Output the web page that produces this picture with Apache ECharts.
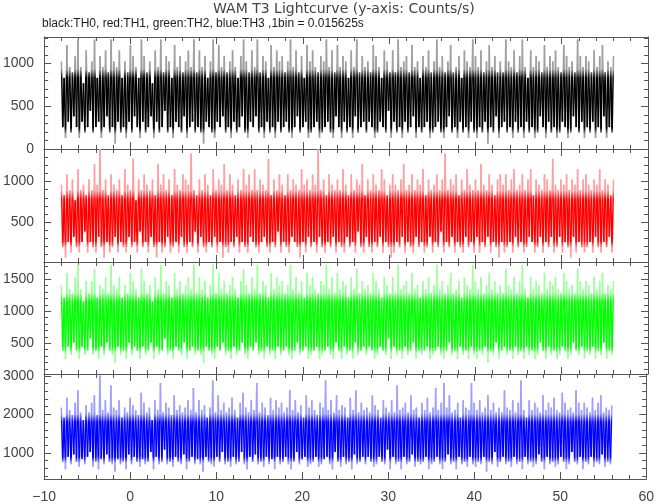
<!DOCTYPE html>
<html><head><meta charset="utf-8">
<script src="https://cdn.jsdelivr.net/npm/echarts@6/dist/echarts.min.js"></script>
<style>html,body{margin:0;padding:0;background:#fff}#c{width:657px;height:504px}</style>
</head><body><div id="c"></div>
<script>
const TITLE = 'WAM T3 Lightcurve (y-axis: Counts/s)';
const SUBTITLE = 'black:TH0, red:TH1, green:TH2, blue:TH3 ,1bin = 0.015625s';
const BIN_SIZE = 0.015625;   // s per bin
const TIME_START = -8;       // s
const TIME_STEP = 0.16;      // s between plotted samples (alternating local max / local min)

// counts per bin (rate = counts / BIN_SIZE)
const th0Counts = [
16,4,13,2,19,5,15,3,14,6,17,4,20,2,15,5,12,3,18,4,
14,7,16,3,20,4,13,5,17,2,15,4,18,6,14,3,20,4,16,1,
15,5,18,3,13,4,16,2,14,5,19,3,17,6,15,4,13,2,20,5,
17,3,14,4,16,6,12,2,18,5,15,3,20,4,14,7,17,3,16,4,
13,2,19,5,15,4,17,3,14,6,16,2,18,4,15,5,20,3,14,4,
18,3,15,1,17,5,13,4,16,3,20,2,14,5,19,4,15,6,17,3,
14,4,16,2,18,5,15,3,13,4,17,6,20,3,16,2,14,5,18,4,
15,6,20,3,14,4,17,2,16,5,13,3,19,4,15,2,18,5,16,3,
17,4,14,5,16,3,20,2,15,4,18,6,14,3,17,4,13,5,19,2,
16,3,18,4,15,5,14,2,17,3,16,4,20,5,15,3,18,2,14,6,
19,4,15,2,17,5,16,3,13,4,18,2,15,6,20,3,14,4,17,5,
15,3,16,5,14,4,19,2,17,3,15,5,13,4,18,3,16,7,14,2,
18,5,14,3,20,4,15,2,16,5,17,3,14,4,19,6,15,2,16,4,
13,3,17,4,15,5,18,2,14,3,16,4,20,5,15,3,17,2,14,4,
16,6,19,3,14,4,15,2,17,5,13,3,18,4,16,2,15,5,20,3,
17,2,15,4,18,3,14,5,16,1,19,4,15,3,17,6,14,2,16,4,
14,5,20,3,16,4,15,2,18,5,14,3,17,4,20,2,15,5,13,3,
18,4,15,2,17,3,16,6,14,4,19,2,15,5,17,3,16,4,18,2,
15,3,14,5,19,4,17,2,15,3,16,6,14,4,20,3,17,5,15,2,
17,4,16,3,14,5,18,2,15,4,17,3,19,6,14,2,16,4,15,3,
17];
const th1Counts = [
15,3,13,1,17,4,14,2,16,5,12,3,18,2,14,4,15,6,13,2,
16,4,14,3,19,2,15,5,22,3,14,1,16,4,13,2,17,3,15,5,
14,2,16,4,13,3,18,2,15,5,14,3,20,4,12,2,16,6,14,3,
17,4,15,2,14,5,16,3,13,1,19,4,15,2,17,3,14,5,16,2,
13,3,18,4,15,2,14,5,17,3,16,2,15,4,21,3,14,6,13,2,
16,5,14,3,17,2,15,4,13,3,18,5,14,2,16,4,15,1,19,3,
14,2,17,4,15,3,13,5,16,2,14,4,18,3,15,2,17,5,14,4,
18,3,14,2,16,4,15,5,14,3,20,2,13,4,16,3,14,6,17,2,
15,4,13,3,17,2,14,5,16,4,15,3,14,1,18,4,15,2,16,5,
14,3,17,4,15,2,22,5,14,3,16,2,13,4,17,3,15,5,14,2,
16,4,14,3,18,2,15,5,13,3,17,4,14,2,16,6,15,3,19,2,
13,5,16,3,14,2,17,4,15,3,14,5,18,2,16,4,13,3,15,1,
17,2,15,4,14,3,16,5,19,2,14,4,15,3,17,2,14,5,16,3,
15,4,18,2,13,3,16,5,14,2,15,4,17,3,14,6,16,2,21,4,
14,3,16,5,15,2,17,4,13,3,16,2,14,5,18,3,15,4,14,2,
16,5,14,2,19,4,15,3,14,5,17,2,15,4,13,3,16,1,17,4,
15,2,17,3,14,4,16,2,18,5,14,3,15,4,17,2,14,3,16,5,
18,4,13,2,16,3,15,5,14,2,17,4,16,3,14,5,20,2,15,3,
14,5,16,2,15,4,17,3,14,1,16,5,15,2,18,4,14,3,16,2,
17,3,15,4,14,2,16,5,15,3,18,2,14,4,16,3,15,5,13,2,
16];
const th2Counts = [
22,6,19,4,25,7,21,5,20,8,24,6,27,4,21,7,18,5,23,6,
20,9,23,5,26,6,19,4,22,7,21,5,24,8,20,6,27,5,22,3,
21,7,24,5,19,6,22,4,20,8,25,5,23,7,21,6,19,4,26,7,
23,5,20,6,22,8,18,4,24,7,21,5,27,6,20,9,23,5,22,6,
19,4,25,7,21,6,23,5,20,8,22,4,24,6,21,7,27,5,20,6,
24,5,21,3,23,7,19,6,22,5,27,4,20,7,25,6,21,8,23,5,
20,6,22,4,24,7,21,5,19,6,23,8,26,5,22,4,20,7,24,6,
21,8,27,5,20,6,23,4,22,7,19,5,25,6,21,4,24,7,22,5,
23,6,20,7,22,5,27,4,21,6,24,8,20,5,23,6,19,7,25,4,
22,5,24,6,21,7,20,4,23,5,22,6,27,7,21,5,24,4,20,8,
25,6,21,4,23,7,22,5,19,6,24,4,21,8,26,5,20,6,23,7,
21,5,22,7,20,6,25,4,23,5,21,7,19,6,24,5,22,9,20,4,
24,7,20,5,27,6,21,4,22,7,23,5,20,6,25,8,21,4,22,6,
19,5,23,6,21,7,24,4,20,5,22,6,27,7,21,5,23,4,20,6,
22,8,25,5,20,6,21,4,23,7,19,5,24,6,22,4,21,7,27,5,
23,4,21,6,24,5,20,7,22,3,25,6,21,5,23,8,20,4,22,6,
20,7,26,5,22,6,21,4,24,7,20,5,23,6,27,4,21,7,19,5,
24,6,21,4,23,5,22,8,20,6,25,4,21,7,23,5,22,6,24,4,
21,5,20,7,25,6,23,4,21,5,22,8,20,6,26,5,23,7,21,4,
23,6,22,5,20,7,24,4,21,6,23,5,25,8,20,4,22,6,21,5,
23];
const th3Counts = [
34,12,30,9,38,14,33,11,31,15,36,12,41,10,32,13,29,11,35,14,
32,16,36,10,39,12,31,9,47,13,33,11,37,15,32,12,43,11,34,8,
33,13,37,11,30,12,34,9,32,15,38,11,35,14,33,12,31,10,40,13,
36,11,32,12,34,16,29,9,37,14,33,11,44,12,32,17,36,11,34,12,
31,10,39,14,33,12,35,11,32,15,34,9,37,12,33,14,42,11,32,13,
37,11,33,8,35,14,30,12,34,11,45,10,32,14,39,12,33,16,36,11,
32,12,34,10,38,14,33,11,30,12,36,16,40,11,34,9,32,14,37,12,
33,15,44,11,32,12,36,10,34,14,31,11,38,13,33,9,37,14,34,11,
36,12,32,14,34,11,41,9,33,12,37,16,32,11,35,13,30,14,39,10,
34,11,37,12,33,14,31,10,36,11,34,13,45,14,33,11,37,9,32,16,
39,12,33,10,35,14,34,11,30,12,38,9,33,15,41,11,32,12,36,14,
33,11,34,14,32,12,39,10,35,11,33,14,30,12,37,11,34,17,32,9,
37,14,32,11,43,12,33,9,34,14,36,11,32,12,39,15,33,10,34,12,
30,11,36,12,33,14,38,9,32,11,34,12,42,14,33,11,36,9,44,12,
34,15,39,11,32,12,33,9,36,14,30,11,37,12,34,10,33,14,44,11,
36,10,33,12,37,11,32,14,34,8,39,12,33,11,36,16,32,10,34,12,
32,14,41,11,34,12,33,10,37,14,32,11,36,12,45,9,33,14,30,11,
37,12,33,10,36,11,34,15,32,12,39,9,33,14,36,11,34,12,38,10,
33,11,32,14,40,12,36,9,33,11,34,16,32,12,41,11,36,14,33,9,
36,12,34,11,32,14,38,10,33,12,36,11,39,15,32,10,34,12,33,11,
35];

// axis ranges and tick values
const X_MIN = -10, X_MAX = 60, X_INTERVAL = 10;
const yMins = [0, 10, 20, 320];
const yMaxs = [1310, 1400, 1770, 3050];
const yLabels = [[0,500,1000],[500,1000],[500,1000,1500],[1000,2000,3000]];
const yMajorTicks = [[0,500,1000],[0,500,1000],[500,1000,1500],[1000,2000,3000]];
const yMinorTicks = [
  [100,200,300,400,600,700,800,900,1100,1200,1300],
  [100,200,300,400,600,700,800,900,1100,1200,1300,1400],
  [100,200,300,400,600,700,800,900,1100,1200,1300,1400,1600,1700],
  [400,600,800,1200,1400,1600,1800,2200,2400,2600,2800]
];
// rate range where the dense traces overlap into a solid band
const coreLow = [250, 270, 450, 900];
const coreHigh = [830, 780, 1150, 1800];
const seriesCounts = [th0Counts, th1Counts, th2Counts, th3Counts];
const seriesNames = ['TH0','TH1','TH2','TH3'];
const darkColors = ['#000000','#ff0000','#00ff00','#0000ff'];
const lightColors = ['#a0a0a0','#ffa0a0','#a0ffa0','#a0a0ff'];

const AX = '#555';
const TXT = '#444';
const FONT = 'Liberation Sans';
const LINE_W = 1.5;
const grids = [
  {left:43, right:9, top:37, height:112},
  {left:43, right:9, top:149, height:113},
  {left:43, right:9, top:262, height:112},
  {left:43, right:9, top:374, height:112}
];
const xAxes = [], yAxes = [], series = [];
grids.forEach((g, i) => {
  ['bottom','top'].forEach(pos => {
    xAxes.push({
      gridIndex:i, type:'value', min:X_MIN, max:X_MAX, interval:X_INTERVAL, position:pos,
      axisLine:{onZero:false, lineStyle:{color:AX, width:1}},
      axisTick:{inside:true, length:7, lineStyle:{color:AX}},
      minorTick:{show:true, splitNumber:5, length:4, lineStyle:{color:AX}},
      splitLine:{show:false},
      axisLabel:{show: i===3 && pos==='bottom', fontSize:14, color:TXT, fontFamily:FONT, margin:11,
        formatter: v => v < 0 ? '\u2212' + (-v) : String(v)}
    });
  });
  ['left','right'].forEach(pos => {
    yAxes.push({
      gridIndex:i, type:'value', min:yMins[i], max:yMaxs[i], position:pos,
      axisLine:{show:true, onZero:false, lineStyle:{color:AX, width:1}},
      axisTick:{show:true, inside:true, length:7, customValues:yMajorTicks[i], lineStyle:{color:AX}},
      splitLine:{show:false},
      axisLabel:{show: pos==='left', customValues:yLabels[i], fontSize:14, color:TXT, fontFamily:FONT, margin:10,
        formatter: v => String(v)}
    });
    yAxes.push({
      gridIndex:i, type:'value', min:yMins[i], max:yMaxs[i], position:pos,
      axisLine:{show:false, onZero:false},
      axisTick:{show:true, inside:true, length:4, customValues:yMinorTicks[i], lineStyle:{color:AX}},
      splitLine:{show:false},
      axisLabel:{show:false}
    });
  });
  const counts = seriesCounts[i];
  const span = yMaxs[i] - yMins[i];
  const off = v => Math.min(1, Math.max(0, (yMaxs[i] - v) / span));
  const stops = [
    {offset:0, color:lightColors[i]},
    {offset:off(coreHigh[i] + span*0.08), color:lightColors[i]},
    {offset:off(coreHigh[i]), color:darkColors[i]},
    {offset:off(coreLow[i]), color:darkColors[i]},
    {offset:off(coreLow[i] - span*0.06), color:lightColors[i]},
    {offset:1, color:lightColors[i]}
  ];
  // one segment per consecutive pair of samples: [t, rate, tPrev, ratePrev]
  const segs = counts.slice(1).map((c, k) => [
    TIME_START + (k + 1) * TIME_STEP, c / BIN_SIZE,
    TIME_START + k * TIME_STEP, counts[k] / BIN_SIZE
  ]);
  series.push({
    type:'custom', name:seriesNames[i], xAxisIndex:2*i, yAxisIndex:4*i,
    data: segs, encode:{x:[0,2], y:[1,3]}, clip:true,
    renderItem: (params, api) => {
      const p1 = api.coord([api.value(0), api.value(1)]);
      const p0 = api.coord([api.value(2), api.value(3)]);
      const yTop = api.coord([0, yMaxs[i]])[1];
      const yBot = api.coord([0, yMins[i]])[1];
      const grad = new echarts.graphic.LinearGradient(0, yTop, 0, yBot, stops, true);
      return {type:'line', shape:{x1:p0[0], y1:p0[1], x2:p1[0], y2:p1[1]},
        style:{stroke:grad, lineWidth:LINE_W, lineCap:'butt'}};
    }
  });
});

const chart = echarts.init(document.getElementById('c'), null, {renderer:'canvas'});
chart.setOption({
  animation:false,
  backgroundColor:'#fff',
  title:[
    {text:TITLE, left:213, top:2, padding:0, textStyle:{fontSize:14, fontWeight:'normal', color:TXT, fontFamily:'DejaVu Sans'}},
    {text:SUBTITLE, left:42, top:18, padding:0, textStyle:{fontSize:12, fontWeight:'normal', color:'#222', fontFamily:FONT}}
  ],
  grid:grids, xAxis:xAxes, yAxis:yAxes, series:series
});
</script></body></html>
